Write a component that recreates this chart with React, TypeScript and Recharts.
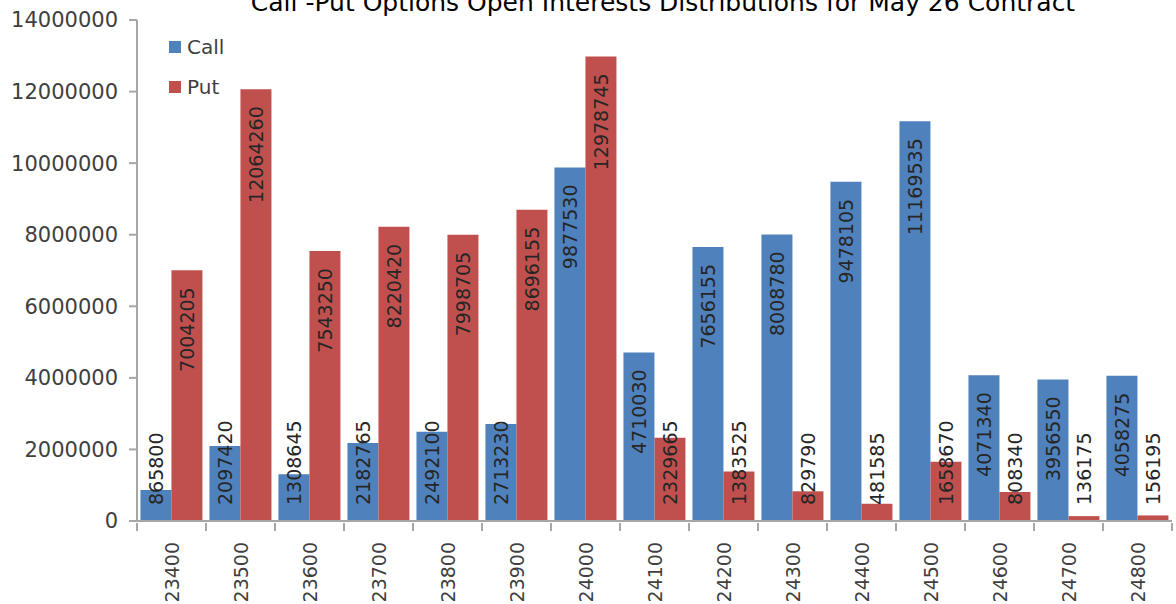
import React from "react";
import { BarChart, Bar, XAxis, YAxis, LabelList } from "recharts";

const strikes = ["23400", "23500", "23600", "23700", "23800", "23900", "24000", "24100", "24200", "24300", "24400", "24500", "24600", "24700", "24800"];
const callOI = [865800, 2097420, 1308645, 2182765, 2492100, 2713230, 9877530, 4710030, 7656155, 8008780, 9478105, 11169535, 4071340, 3956550, 4058275];
const putOI = [7004205, 12064260, 7543250, 8220420, 7998705, 8696155, 12978745, 2329665, 1383525, 829790, 481585, 1658670, 808340, 136175, 156195];
const yTicks = [0, 2000000, 4000000, 6000000, 8000000, 10000000, 12000000, 14000000];

const CALL_COLOR = "#4F81BD";
const PUT_COLOR = "#C0504D";
const AXIS_COLOR = "#A6A6A6";
const TEXT_COLOR = "#404040";
const FONT = "'DejaVu Sans', sans-serif";

const data = strikes.map((s, i) => ({ strike: s, Call: callOI[i], Put: putOI[i] }));

const LABEL_SIZE = 19;

// rotated value label: sits just under the bar top, or rests near the axis when the bar is too short
const renderBarLabel = (props: any) => {
  const { x, y, width, height, value } = props;
  const text = String(value);
  const len = text.length * 0.636 * LABEL_SIZE;
  const bottom = y + height;
  const cx = x + width / 2;
  let start = y + 17 + len;
  if (start > bottom - 16) start = bottom - 16;
  return (
    <text
      x={cx}
      y={start}
      transform={`rotate(-90 ${cx} ${start})`}
      textAnchor="start"
      dominantBaseline="central"
      fontSize={LABEL_SIZE}
      fontFamily={FONT}
      fill="#262626"
    >
      {text}
    </text>
  );
};

const XTick = (props: any) => {
  const { x, y, payload, index } = props;
  const band = 1035 / strikes.length;
  const left = x - band / 2;
  const right = x + band / 2;
  return (
    <g>
      <line x1={left} y1={y} x2={left} y2={y + 8} stroke={AXIS_COLOR} strokeWidth={2} />
      {index === strikes.length - 1 && (
        <line x1={right} y1={y} x2={right} y2={y + 8} stroke={AXIS_COLOR} strokeWidth={2} />
      )}
      <text
        x={x}
        y={y + 19}
        transform={`rotate(-90 ${x} ${y + 19})`}
        textAnchor="end"
        dominantBaseline="central"
        fontSize={19}
        fontFamily={FONT}
        fill={TEXT_COLOR}
      >
        {payload.value}
      </text>
    </g>
  );
};

const legendItems = [
  { name: "Call", color: CALL_COLOR },
  { name: "Put", color: PUT_COLOR },
];

export default function App() {
  return (
    <div style={{ position: "absolute", left: 0, top: 0, width: 1176, height: 604, background: "#fff", overflow: "hidden" }}>
      <BarChart
        width={1176}
        height={604}
        data={data}
        margin={{ top: 20, right: 4, left: 0, bottom: 0 }}
        barCategoryGap="5%"
        barGap={0}
      >
        <XAxis
          dataKey="strike"
          height={83}
          interval={0}
          tick={<XTick />}
          tickLine={false}
          axisLine={{ stroke: AXIS_COLOR, strokeWidth: 2 }}
          tickSize={0}
        />
        <YAxis
          width={137}
          domain={[0, 14000000]}
          ticks={yTicks}
          interval={0}
          tickFormatter={(v: number) => String(v)}
          tick={{ fontSize: 21, fontFamily: FONT, fill: TEXT_COLOR }}
          tickLine={{ stroke: AXIS_COLOR, strokeWidth: 2 }}
          axisLine={{ stroke: AXIS_COLOR, strokeWidth: 2 }}
          tickSize={8}
          tickMargin={11}
        />
        <Bar dataKey="Call" fill={CALL_COLOR} isAnimationActive={false}>
          <LabelList dataKey="Call" content={renderBarLabel} />
        </Bar>
        <Bar dataKey="Put" fill={PUT_COLOR} isAnimationActive={false}>
          <LabelList dataKey="Put" content={renderBarLabel} />
        </Bar>
      </BarChart>
      <div
        style={{
          position: "absolute",
          left: 0,
          top: -12,
          width: 1326,
          textAlign: "center",
          fontFamily: FONT,
          fontSize: 25,
          color: "#000",
          whiteSpace: "nowrap",
        }}
      >
        Call -Put Options Open Interests Distributions for May 26 Contract
      </div>
      <div style={{ position: "absolute", left: 169, top: 27, fontFamily: FONT, fontSize: 20, color: TEXT_COLOR }}>
        {legendItems.map((it) => (
          <div key={it.name} style={{ display: "flex", alignItems: "center", height: 40 }}>
            <span style={{ display: "inline-block", width: 12, height: 12, background: it.color, marginRight: 6 }} />
            <span>{it.name}</span>
          </div>
        ))}
      </div>
    </div>
  );
}
